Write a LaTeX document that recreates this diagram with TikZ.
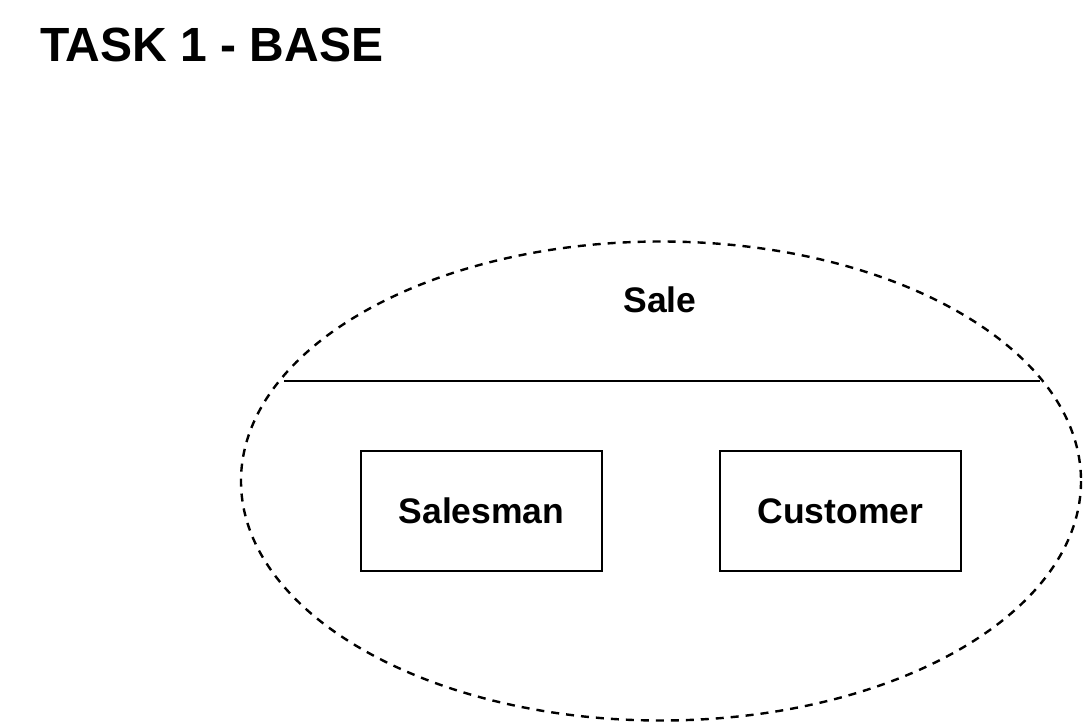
\documentclass[tikz,border=0pt]{standalone}
\usepackage{fontspec}
\setmainfont{Liberation Sans}
\begin{document}
\begin{tikzpicture}[x=1pt,y=-1pt,
  lbl/.style={font=\fontsize{35.5}{40}\selectfont\bfseries, inner sep=0pt},
  entity/.style={draw, line width=2.4pt, minimum width=241pt, minimum height=120pt, inner sep=0pt, font=\fontsize{35.5}{40}\selectfont\bfseries},
  scope/.style={draw, dashed, dash pattern=on 8pt off 7pt, line width=2.4pt}]
\useasboundingbox (0,0) rectangle (1083,723);
\node[anchor=base west, inner sep=0pt, font=\fontsize{48}{52}\selectfont\bfseries] (title) at (40,61) {TASK 1 - BASE};
\draw[scope] (661,481) ellipse [x radius=420, y radius=239.5];
\coordinate (dl) at (284,381);
\coordinate (dr) at (1040,381);
\draw[line width=2.4pt] (dl) -- (dr);
\node[lbl, anchor=base] (sale) at (660,312) {Sale};
\node[entity] (salesman) at (481.5,511) {Salesman};
\node[entity] (customer) at (840.5,511) {Customer};
\end{tikzpicture}
\end{document}
